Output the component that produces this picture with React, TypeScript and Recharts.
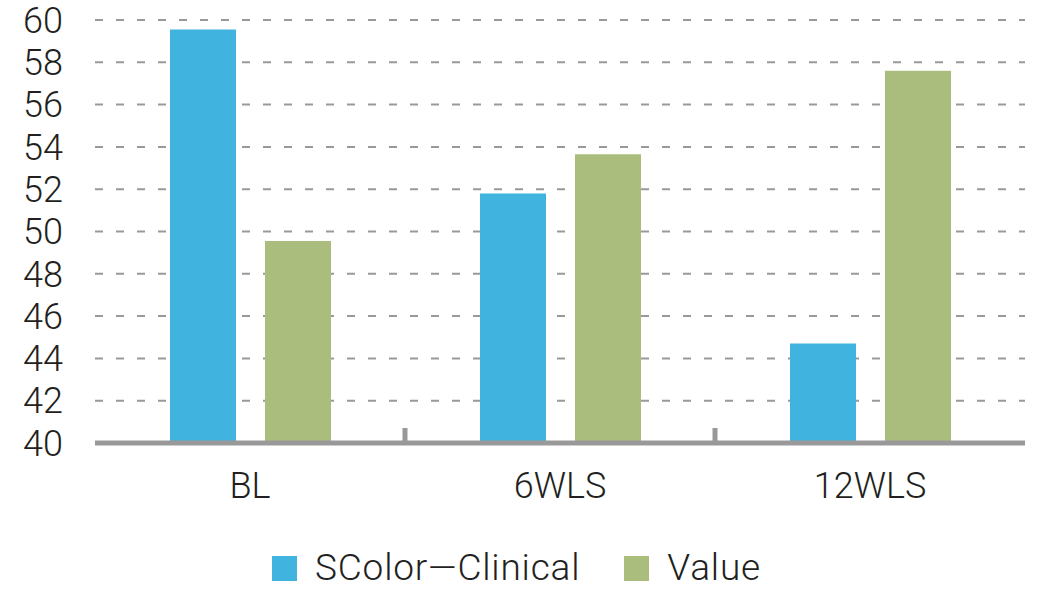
import { BarChart, Bar, XAxis, YAxis, CartesianGrid, Legend } from "recharts";

const categories = ["BL", "6WLS", "12WLS"];
const scolorClinical = [59.55, 51.8, 44.7];
const valueSeries = [49.55, 53.65, 57.6];
const yTicks = [40, 42, 44, 46, 48, 50, 52, 54, 56, 58, 60];

const data = categories.map((name, i) => ({
  name,
  scolor: scolorClinical[i],
  value: valueSeries[i],
}));

const BLUE = "#40B3DF";
const GREEN = "#ABBD7D";
const GRAY = "#999999";
const TEXT = "#231F20";
const FONT = "Roboto, 'Liberation Sans', sans-serif";
const X_TICK_MARGIN = 29;

const legendItems = [
  { label: "SColor\u2014Clinical", color: BLUE },
  { label: "Value", color: GREEN },
];

function ChartLegend() {
  return (
    <div
      style={{
        display: "flex",
        justifyContent: "center",
        alignItems: "center",
        height: 60,
        boxSizing: "border-box",
        paddingTop: 18,
        paddingLeft: 8,
        fontFamily: FONT,
        fontWeight: 300,
        fontSize: 37,
        lineHeight: "40px",
        letterSpacing: 0.8,
        color: TEXT,
        gap: 44,
      }}
    >
      {legendItems.map((item) => (
        <div key={item.label} style={{ display: "flex", alignItems: "center" }}>
          <span style={{ width: 25, height: 25, background: item.color, marginRight: 18, display: "inline-block" }} />
          <span>{item.label}</span>
        </div>
      ))}
    </div>
  );
}

// category label plus the small upward mark on the boundary to the right of it
function CategoryTick(props: any) {
  const { x, y, payload, index } = props;
  const half = payload.offset ?? 0;
  const axisY = y - X_TICK_MARGIN;
  return (
    <g>
      <text
        x={x}
        y={y}
        dy="0.71em"
        textAnchor="middle"
        fill={TEXT}
        fontSize={36}
        fontFamily={FONT}
        fontWeight={300}
      >
        {payload.value}
      </text>
      {index < categories.length - 1 && half > 0 && (
        <rect x={x + half - 2.5} y={axisY - 15} width={5} height={16} fill={GRAY} />
      )}
    </g>
  );
}

export default function App() {
  return (
    <div style={{ position: "absolute", left: 0, top: 0, background: "#fff" }}>
      <BarChart
        width={1043}
        height={589}
        data={data}
        margin={{ top: 20, right: 18, left: 0, bottom: 0 }}
        barCategoryGap={75}
        barGap={29}
      >
        <CartesianGrid vertical={false} stroke={GRAY} strokeWidth={2} strokeDasharray="8 13" />
        <XAxis
          dataKey="name"
          height={86}
          interval={0}
          tickLine={false}
          tickSize={0}
          tickMargin={X_TICK_MARGIN}
          axisLine={{ stroke: GRAY, strokeWidth: 5 }}
          tick={<CategoryTick />}
        />
        <YAxis
          width={95}
          domain={[40, 60]}
          ticks={yTicks}
          interval={0}
          tickLine={false}
          tickSize={0}
          tickMargin={32}
          axisLine={false}
          tick={{ fill: TEXT, fontSize: 36, fontFamily: FONT, fontWeight: 300 }}
        />
        <Legend verticalAlign="bottom" content={<ChartLegend />} wrapperStyle={{ height: 60 }} />
        <Bar dataKey="scolor" name="SColor—Clinical" fill={BLUE} isAnimationActive={false} />
        <Bar dataKey="value" name="Value" fill={GREEN} isAnimationActive={false} />
      </BarChart>
    </div>
  );
}
